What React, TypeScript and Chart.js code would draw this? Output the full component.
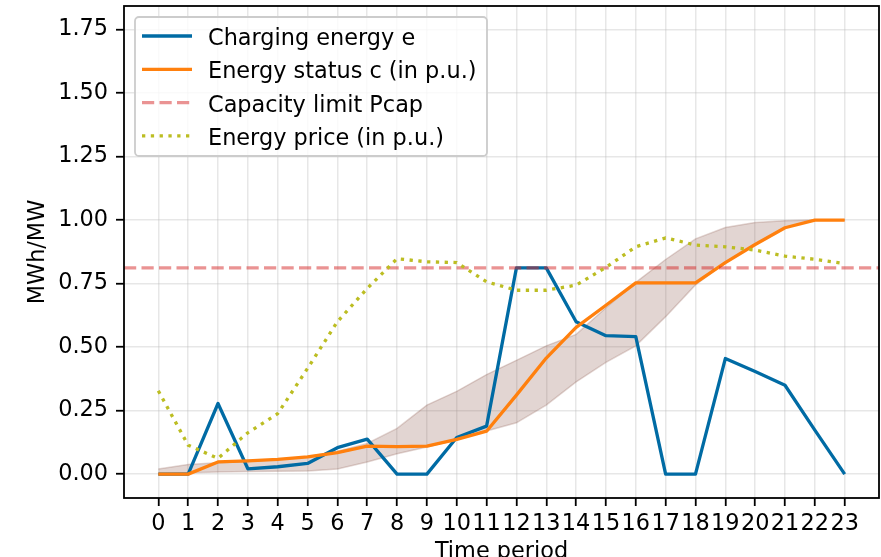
import { useEffect, useRef } from "react";
import { Chart, registerables } from "chart.js";

Chart.register(...registerables);

// ---- data ----
const periods = [0, 1, 2, 3, 4, 5, 6, 7, 8, 9, 10, 11, 12, 13, 14, 15, 16, 17, 18, 19, 20, 21, 22, 23];
const chargingEnergy = [0, 0, 0.278, 0.021, 0.029, 0.042, 0.104, 0.138, 0, 0, 0.144, 0.189, 0.812, 0.812, 0.6, 0.545, 0.541, 0, 0, 0.455, 0.404, 0.35, 0.173, 0];
const energyStatus = [0, 0, 0.048, 0.052, 0.058, 0.068, 0.085, 0.11, 0.108, 0.11, 0.137, 0.169, 0.311, 0.457, 0.578, 0.665, 0.753, 0.753, 0.753, 0.833, 0.904, 0.97, 1.0, 1.0];
const capacityLimit = 0.812;
const energyPrice = [0.328, 0.114, 0.062, 0.163, 0.238, 0.416, 0.6, 0.731, 0.848, 0.836, 0.833, 0.757, 0.724, 0.724, 0.744, 0.814, 0.895, 0.93, 0.902, 0.895, 0.882, 0.858, 0.846, 0.829];
const statusBandLower = [0, 0.005, 0.008, 0.01, 0.011, 0.012, 0.02, 0.048, 0.08, 0.107, 0.135, 0.17, 0.202, 0.272, 0.363, 0.44, 0.505, 0.62, 0.745, 0.833, 0.904, 0.97, 1.0, 1.0];
const statusBandUpper = [0.02, 0.038, 0.045, 0.05, 0.058, 0.068, 0.09, 0.121, 0.18, 0.272, 0.326, 0.392, 0.448, 0.505, 0.55, 0.655, 0.755, 0.845, 0.926, 0.971, 0.991, 0.998, 1.0, 1.0];

const xTicks = periods;
const yTicks = [0, 0.25, 0.5, 0.75, 1.0, 1.25, 1.5, 1.75];
const yTickLabels = ["0.00", "0.25", "0.50", "0.75", "1.00", "1.25", "1.50", "1.75"];
const xLimits = [-1.15, 24.15];
const yLimits = [-0.094, 1.843];

const legendLabels = [
  "Charging energy e",
  "Energy status c (in p.u.)",
  "Capacity limit Pcap",
  "Energy price (in p.u.)",
];
const xTitle = "Time period";
const yTitle = "MWh/MW";

// ---- styles ----
const FONT = '"DejaVu Sans", sans-serif';
const FS = 22.4;
const LW = 3.3;
const BLUE = "#006BA4";
const ORANGE = "#FF800E";
const PINK = "rgba(214,39,40,0.5)";
const OLIVE = "#bcbd22";
const BAND_FILL = "rgba(140,86,75,0.25)";
const BAND_EDGE = "rgba(140,86,75,0.25)";

const pts = (ys: number[]) => periods.map((p, i) => ({ x: p, y: ys[i] }));

const spinesPlugin = {
  id: "spines",
  afterDatasetsDraw(chart: any) {
    const { ctx, chartArea: ca } = chart;
    ctx.save();
    ctx.strokeStyle = "#000";
    ctx.lineWidth = 1.8;
    ctx.strokeRect(ca.left, ca.top, ca.right - ca.left, ca.bottom - ca.top);
    ctx.restore();
  },
};

const legendPlugin = {
  id: "mplLegend",
  afterDraw(chart: any) {
    const { ctx, chartArea: ca } = chart;
    const x0 = ca.left + 11;
    const y0 = ca.top + 11;
    const w = 352;
    const h = 139;
    const r = 4;
    ctx.save();
    ctx.beginPath();
    ctx.moveTo(x0 + r, y0);
    ctx.lineTo(x0 + w - r, y0);
    ctx.arcTo(x0 + w, y0, x0 + w, y0 + r, r);
    ctx.lineTo(x0 + w, y0 + h - r);
    ctx.arcTo(x0 + w, y0 + h, x0 + w - r, y0 + h, r);
    ctx.lineTo(x0 + r, y0 + h);
    ctx.arcTo(x0, y0 + h, x0, y0 + h - r, r);
    ctx.lineTo(x0, y0 + r);
    ctx.arcTo(x0, y0, x0 + r, y0, r);
    ctx.closePath();
    ctx.fillStyle = "rgba(255,255,255,0.8)";
    ctx.fill();
    ctx.strokeStyle = "#cccccc";
    ctx.lineWidth = 1.8;
    ctx.stroke();

    const items = chart.data.datasets.filter((d: any) => legendLabels.includes(d.label));
    items.forEach((ds: any, i: number) => {
      const cy = y0 + 19 + i * 33.3;
      ctx.beginPath();
      ctx.setLineDash(ds.borderDash || []);
      ctx.lineCap = "butt";
      ctx.strokeStyle = ds.borderColor;
      ctx.lineWidth = ds.borderWidth;
      ctx.moveTo(x0 + 7, cy);
      ctx.lineTo(x0 + 57, cy);
      ctx.stroke();
      ctx.setLineDash([]);
      ctx.fillStyle = "#000";
      ctx.font = `${FS}px ${FONT}`;
      ctx.textAlign = "left";
      ctx.textBaseline = "alphabetic";
      ctx.fillText(ds.label, x0 + 73, cy + 9);
    });
    ctx.restore();
  },
};

export default function App() {
  const ref = useRef<HTMLCanvasElement>(null);

  useEffect(() => {
    const canvas = ref.current;
    if (!canvas) return;
    const chart = new Chart(canvas, {
      type: "line",
      data: {
        datasets: [
          {
            label: legendLabels[0],
            data: pts(chargingEnergy),
            borderColor: BLUE,
            borderWidth: LW,
            pointRadius: 0,
            tension: 0,
            fill: false,
            order: 4,
            borderJoinStyle: "round",
          },
          {
            label: legendLabels[1],
            data: pts(energyStatus),
            borderColor: ORANGE,
            borderWidth: LW,
            pointRadius: 0,
            tension: 0,
            fill: false,
            order: 3,
            borderJoinStyle: "round",
          },
          {
            label: legendLabels[2],
            data: [
              { x: xLimits[0], y: capacityLimit },
              { x: xLimits[1], y: capacityLimit },
            ],
            borderColor: PINK,
            borderWidth: LW,
            borderDash: [12.2, 5.3],
            pointRadius: 0,
            fill: false,
            order: 2,
          },
          {
            label: legendLabels[3],
            data: pts(energyPrice),
            borderColor: OLIVE,
            borderWidth: LW,
            borderDash: [3.3, 5.5],
            pointRadius: 0,
            tension: 0,
            fill: false,
            order: 1,
          },
          {
            label: "band-lower",
            data: pts(statusBandLower),
            borderColor: BAND_EDGE,
            borderWidth: 1.5,
            pointRadius: 0,
            tension: 0,
            fill: false,
            order: 10,
          },
          {
            label: "band-upper",
            data: pts(statusBandUpper),
            borderColor: BAND_EDGE,
            backgroundColor: BAND_FILL,
            borderWidth: 1.5,
            pointRadius: 0,
            tension: 0,
            fill: "-1",
            order: 9,
          },
        ],
      } as any,
      options: {
        responsive: false,
        animation: false,
        devicePixelRatio: 1,
        layout: { padding: { left: 0, top: 6, right: 2, bottom: 0 } },
        plugins: {
          legend: { display: false },
          tooltip: { enabled: false },
        },
        scales: {
          x: {
            type: "linear",
            min: xLimits[0],
            max: xLimits[1],
            afterBuildTicks: (scale: any) => {
              scale.ticks = xTicks.map((v) => ({ value: v }));
            },
            afterFit: (scale: any) => {
              scale.height = 59;
              scale.paddingLeft = 0;
              scale.paddingRight = 0;
            },
            ticks: {
              autoSkip: false,
              maxRotation: 0,
              minRotation: 0,
              padding: 5,
              color: "#000",
              font: { family: FONT, size: FS },
              callback: (v: any) => String(v),
            },
            grid: {
              color: "rgba(176,176,176,0.3)",
              lineWidth: 1.5,
              tickColor: "#000",
              tickLength: 8,
              tickWidth: 1.8,
            },
            border: { display: false },
            title: {
              display: true,
              text: xTitle,
              color: "#000",
              font: { family: FONT, size: FS },
              padding: { top: 0, bottom: -9 },
            },
          },
          y: {
            type: "linear",
            min: yLimits[0],
            max: yLimits[1],
            afterBuildTicks: (scale: any) => {
              scale.ticks = yTicks.map((v) => ({ value: v }));
            },
            afterFit: (scale: any) => {
              scale.width = 124;
              scale.paddingTop = 0;
              scale.paddingBottom = 0;
            },
            ticks: {
              padding: 8,
              color: "#000",
              font: { family: FONT, size: FS },
              callback: (v: any) => {
                const i = yTicks.indexOf(v);
                return i >= 0 ? yTickLabels[i] : "";
              },
            },
            grid: {
              color: "rgba(176,176,176,0.3)",
              lineWidth: 1.5,
              tickColor: "#000",
              tickLength: 8,
              tickWidth: 1.8,
            },
            border: { display: false },
            title: {
              display: true,
              text: yTitle,
              color: "#000",
              font: { family: FONT, size: FS },
              padding: { top: 25, bottom: 0 },
            },
          },
        },
      } as any,
      plugins: [spinesPlugin, legendPlugin],
    });
    return () => chart.destroy();
  }, []);

  return (
    <div style={{ position: "fixed", left: 0, top: 0, width: 881, height: 557, background: "#fff" }}>
      <canvas ref={ref} width={881} height={557} style={{ display: "block", width: 881, height: 557 }} />
    </div>
  );
}
